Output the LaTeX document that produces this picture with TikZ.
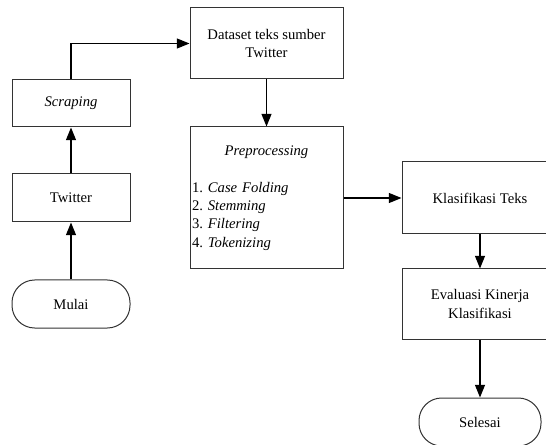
\documentclass[tikz,border=0pt]{standalone}
\usepackage{fontspec}
\setmainfont{Liberation Serif}
\usetikzlibrary{positioning,arrows.meta}

\tikzset{
  proc/.style={draw=black!80, line width=0.75pt, rectangle, align=center, inner sep=1.5pt,
    font=\fontsize{11}{13.8}\selectfont\frenchspacing},
  term/.style={proc, rounded corners=17pt},
  flow/.style={-{Triangle[length=9.5pt,width=7.5pt]}, line width=0.9pt}
}

\begin{document}
\begin{tikzpicture}[x=0.75pt, y=-0.75pt]
\useasboundingbox (0,0) rectangle (546,445);
% left column
\node[term, minimum width=118*0.75pt, minimum height=48*0.75pt] (mulai) at (71,304) {Mulai};
\node[proc, minimum width=118*0.75pt, minimum height=48*0.75pt] (twitter) at (71,198) {Twitter};
\node[proc, minimum width=118*0.75pt, minimum height=47*0.75pt] (scraping) at (71,103.5) {\textit{Scraping}};
% middle column
\node[proc, minimum width=153*0.75pt, minimum height=71*0.75pt] (dataset) at (266.5,43.5) {Dataset teks sumber\\Twitter};
\node[proc, minimum width=153*0.75pt, minimum height=142*0.75pt, text width=149*0.75pt, align=left] (prep) at (266.5,198)
  {{\centering\textit{Preprocessing}\par}\vspace{\baselineskip}\raggedright
   1. \textit{Case Folding}\\2. \textit{Stemming}\\3. \textit{Filtering}\\4. \textit{Tokenizing}};
% right column
\node[proc, minimum width=156*0.75pt, minimum height=72*0.75pt] (klas) at (480,198) {Klasifikasi Teks};
\node[proc, minimum width=156*0.75pt, minimum height=70*0.75pt] (eval) at (480,304) {Evaluasi Kinerja\\Klasifikasi};
\node[term, minimum width=122*0.75pt, minimum height=48*0.75pt] (selesai) at (480,422) {Selesai};
% connectors
\draw[flow] (mulai) -- (twitter);
\draw[flow] (twitter) -- (scraping);
\draw[flow] (scraping.north) |- (dataset.west);
\draw[flow] (dataset) -- (prep);
\draw[flow] (prep) -- (klas);
\draw[flow] (klas) -- (eval);
\draw[flow] (eval) -- (selesai);
\end{tikzpicture}
\end{document}
